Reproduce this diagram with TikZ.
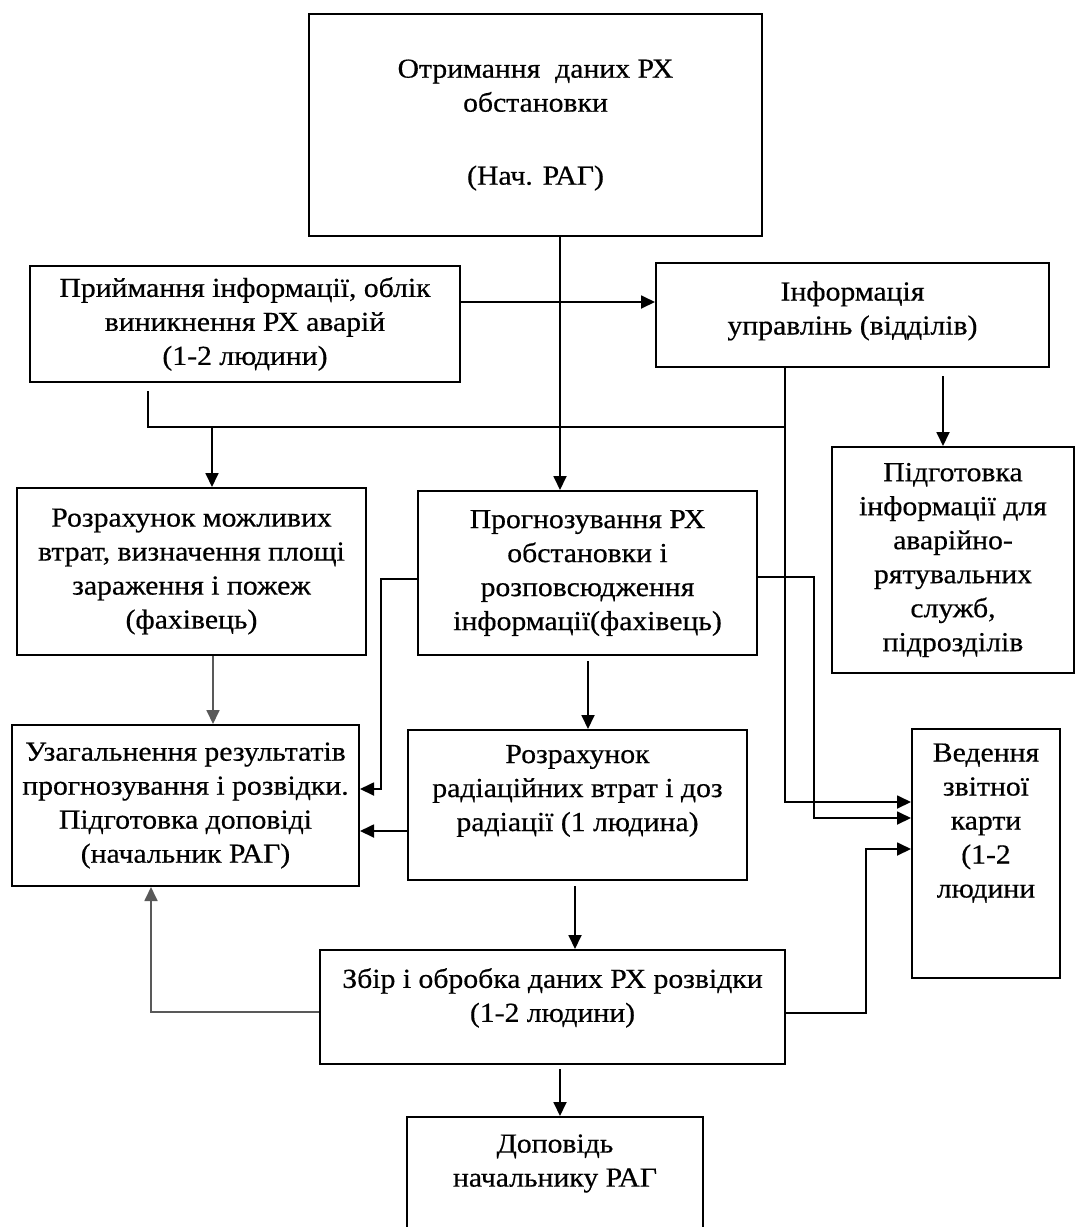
\documentclass[tikz,border=0pt]{standalone}
\usepackage{fontspec}
\setmainfont[FakeStretch=1.08,FakeBold=0.5]{Liberation Serif}
\usetikzlibrary{arrows.meta,calc}
\newcommand\tailsp[1]{\rule[-#1]{0pt}{#1}}
\begin{document}
\begin{tikzpicture}[x=1pt,y=-1pt,
  box/.style={draw,line width=2pt,rectangle,inner sep=0pt,align=center,font=\fontsize{27.5}{34}\selectfont},
  arr/.style={line width=1.8pt,-{Triangle[length=14pt,width=13pt]}},
  arrg/.style={arr,draw=black!65},
  ln/.style={line width=1.8pt},
  ]
\useasboundingbox (0,0) rectangle (1076,1227);
\clip (0,0) rectangle (1076,1227);

\node[box,minimum width=453pt,minimum height=222pt] (top) at (535.5,125)
  {Отримання\ \ даних РХ\\обстановки\\[39pt](Нач. РАГ)};
\node[box,minimum width=430pt,minimum height=116pt] (priy) at (245,324)
  {Приймання інформації, облік\\виникнення РХ аварій\\(1-2 людини)};
\node[box,minimum width=393pt,minimum height=104pt] (info) at (852.5,315)
  {Інформація\\управлінь (відділів)\tailsp{14pt}};
\node[box,minimum width=349pt,minimum height=167pt] (rozmozh) at (191.5,571.5)
  {Розрахунок можливих\\втрат, визначення площі\\зараження і пожеж\\(фахівець)};
\node[box,minimum width=339pt,minimum height=164pt] (prog) at (587.5,573)
  {Прогнозування РХ\\обстановки і\\розповсюдження\\інформації(фахівець)};
\node[box,minimum width=242pt,minimum height=226pt] (pidg) at (953,560)
  {Підготовка\\інформації для\\аварійно-\\рятувальних\\служб,\\підрозділів};
\node[box,minimum width=347pt,minimum height=161pt] (uzag) at (185.5,805.5)
  {Узагальнення результатів\\прогнозування і розвідки.\\Підготовка доповіді\\(начальник РАГ)};
\node[box,minimum width=339pt,minimum height=150pt] (rozrad) at (577.5,805)
  {Розрахунок\\радіаційних втрат і доз\\радіації (1 людина)\tailsp{34pt}};
\node[box,minimum width=148pt,minimum height=249pt] (ved) at (986,853.5)
  {Ведення\\звітної\\карти\\(1-2\\людини\tailsp{66pt}};
\node[box,minimum width=465pt,minimum height=114pt] (zbir) at (552.5,1007)
  {Збір і обробка даних РХ розвідки\\(1-2 людини)\tailsp{24pt}};
\node[box,minimum width=296pt,minimum height=123pt] (dop) at (555,1178.5)
  {Доповідь\\начальнику РАГ\tailsp{36pt}};

\coordinate (bus) at (785,427);

\draw[arr] ($(top.south)+(24.5,0)$) -- ($(prog.north)+(-27.5,0)$);
\draw[arr] ($(priy.east)+(0,-22)$) -- ($(info.west)+(0,-13)$);
\draw[ln] ($(priy.south)+(-97,8)$) |- (bus);
\draw[arr] ($(rozmozh.north)+(20.5,-61)$) -- ($(rozmozh.north)+(20.5,0)$);
\draw[arr] ($(info.south)+(-67.5,0)$) |- ($(ved.west)+(0,-51.5)$);
\draw[arr] ($(info.south)+(90.5,8)$) -- ($(pidg.north)+(-10,0)$);
\draw[arr] ($(prog.east)+(0,4)$) -- ++(56,0) |- ($(ved.west)+(0,-35.5)$);
\draw[arr] ($(zbir.east)+(0,6)$) -- ++(80,0) |- ($(ved.west)+(0,-4.5)$);
\draw[arr] ($(prog.west)+(0,6)$) -- ++(-36,0) |- ($(uzag.east)+(0,-16.5)$);
\draw[arr] ($(rozrad.west)+(0,26)$) -- ($(uzag.east)+(0,25.5)$);
\draw[arrg] ($(rozmozh.south)+(21.5,0)$) -- ($(uzag.north)+(27.5,0)$);
\draw[arr] ($(prog.south)+(0.5,5)$) -- ($(rozrad.north)+(10.5,0)$);
\draw[arr] ($(rozrad.south)+(-2.5,5)$) -- ($(zbir.north)+(22.5,0)$);
\draw[arrg] ($(zbir.west)+(0,5)$) -| ($(uzag.south)+(-34.5,0)$);
\draw[arr] ($(zbir.south)+(7.5,4)$) -- ($(dop.north)+(5,0)$);
\end{tikzpicture}
\end{document}
